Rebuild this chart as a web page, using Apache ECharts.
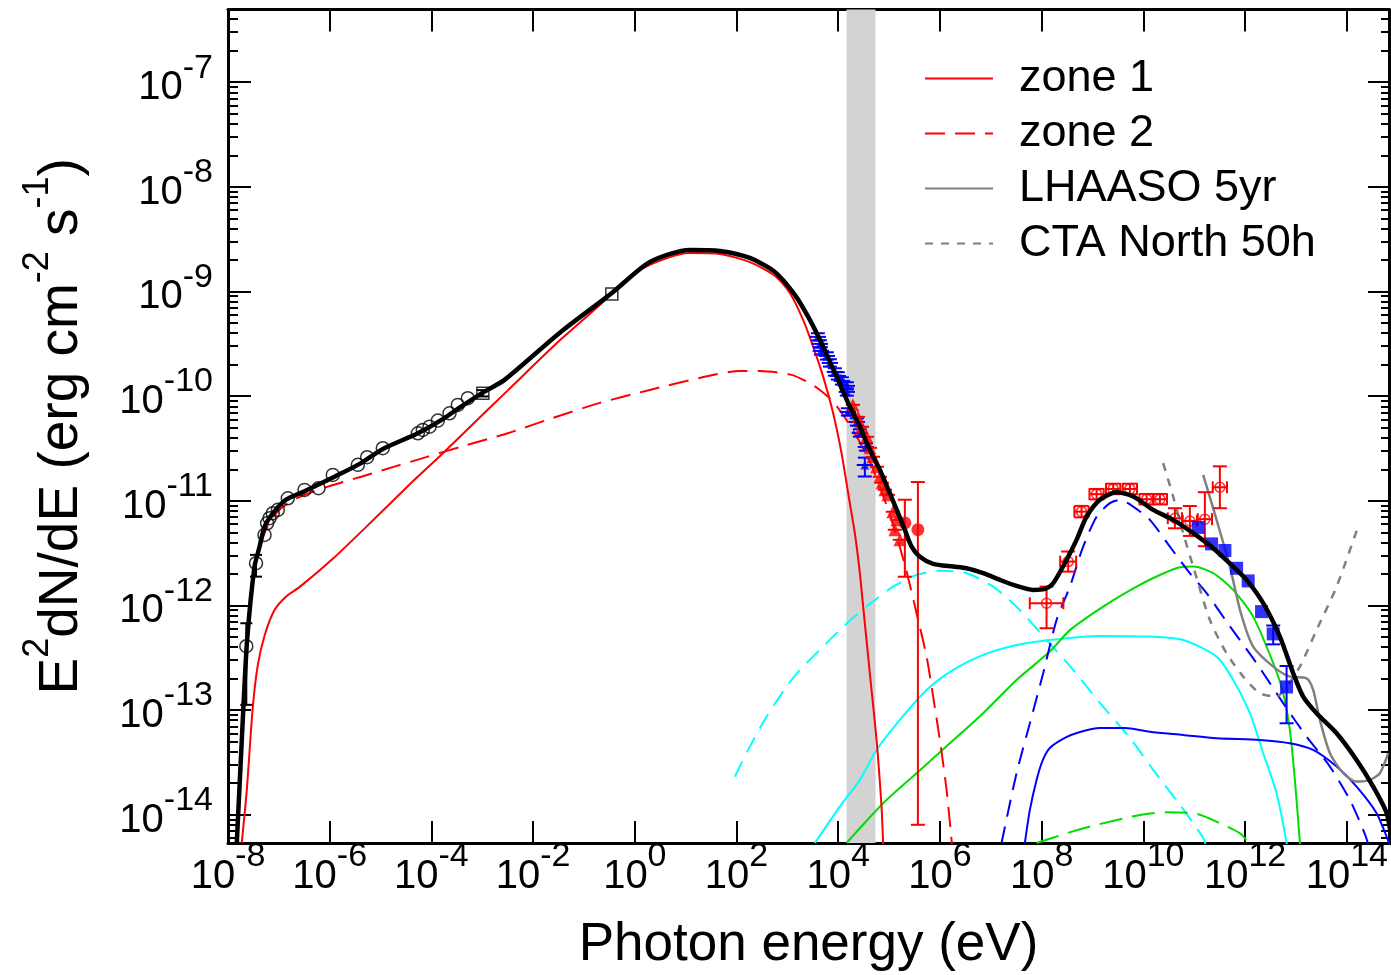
<!DOCTYPE html>
<html>
<head>
<meta charset="utf-8">
<title>SED</title>
<script src="https://cdn.jsdelivr.net/npm/echarts@6.0.0/dist/echarts.min.js"></script>
<style>
  html, body { margin: 0; padding: 0; background: #fff; }
  #main { width: 1391px; height: 975px; }
</style>
</head>
<body>
<div id="main"></div>
<script type="text/javascript">
// every number is log10: x = log10(E / eV), y = log10(E^2 dN/dE / erg cm^-2 s^-1)
var FONT = "'Liberation Sans', Arial, Helvetica, sans-serif";

var xMin = -8, xMax = 14.83;
var yMin = -14.27, yMax = -6.306;
var xTicks = [-8, -6, -4, -2, 0, 2, 4, 6, 8, 10, 12, 14];
var yTicks = [-14, -13, -12, -11, -10, -9, -8, -7];
var yMinorTicks = [];
for (var n = -15; n <= -7; n++) {
  for (var k = 2; k <= 9; k++) {
    var v = n + Math.log10(k);
    if (v > yMin && v < yMax) yMinorTicks.push(v);
  }
}
var grayBand = [4.163, 4.733];

// model curves
var total = [[-7.827,-14.27],[-7.709,-13.09],[-7.624,-12.33],[-7.479,-11.63],[-7.38,-11.44],[-7.282,-11.25],[-7.119,-11.12],[-6.857,-10.99],[-6.495,-10.91],[-5.906,-10.77],[-5.383,-10.64],[-4.956,-10.505],[-4.267,-10.355],[-3.809,-10.23],[-3.416,-10.10],[-2.956,-9.957],[-2.563,-9.845],[-1.475,-9.394],[-0.452,-9.015],[0.295,-8.719],[1.082,-8.603],[1.672,-8.613],[2.262,-8.68],[2.753,-8.813],[3.147,-9.033],[3.442,-9.272],[3.703,-9.527],[3.967,-9.814],[4.228,-10.10],[4.425,-10.29],[4.622,-10.515],[4.818,-10.705],[5.015,-10.928],[5.178,-11.12],[5.31,-11.279],[5.442,-11.438],[5.605,-11.534],[5.866,-11.603],[6.26,-11.629],[6.523,-11.645],[6.85,-11.692],[7.178,-11.756],[7.506,-11.814],[7.833,-11.852],[8.063,-11.842],[8.226,-11.788],[8.49,-11.565],[8.686,-11.374],[8.883,-11.152],[9.145,-10.99],[9.473,-10.918],[9.8,-10.96],[10.193,-11.087],[10.586,-11.183],[10.98,-11.31],[11.373,-11.453],[11.766,-11.629],[12.03,-11.756],[12.356,-11.979],[12.684,-12.298],[12.946,-12.648],[13.142,-12.871],[13.406,-13.03],[13.8,-13.221],[14.192,-13.476],[14.519,-13.731],[14.783,-13.985],[14.9,-14.3]];
var zone1 = [[-7.729,-14.27],[-7.63,-13.76],[-7.512,-12.97],[-7.414,-12.57],[-7.276,-12.28],[-7.08,-12.04],[-6.844,-11.909],[-6.588,-11.823],[-5.939,-11.555],[-5.277,-11.247],[-4.405,-10.833],[-3.815,-10.565],[-3.146,-10.25],[-2.498,-9.945],[-1.475,-9.467],[-0.688,-9.13],[0.098,-8.795],[1.082,-8.633],[1.672,-8.642],[2.262,-8.72],[2.753,-8.85],[3.048,-9.014],[3.31,-9.272],[3.506,-9.527],[3.703,-9.814],[3.9,-10.164],[4.065,-10.546],[4.195,-10.928],[4.326,-11.31],[4.425,-11.692],[4.49,-12.011],[4.621,-12.648],[4.753,-13.285],[4.851,-13.922],[4.883,-14.27],[4.9,-14.4]];
var zone2 = [[-7.833,-14.27],[-7.797,-13.86],[-7.709,-13.09],[-7.611,-12.23],[-7.479,-11.64],[-7.375,-11.45],[-7.257,-11.28],[-7.08,-11.135],[-6.824,-11.024],[-6.495,-10.944],[-6.037,-10.865],[-5.382,-10.77],[-4.726,-10.674],[-4.071,-10.578],[-3.416,-10.483],[-2.498,-10.355],[-1.672,-10.218],[-0.688,-10.065],[0.295,-9.941],[1.278,-9.826],[2.065,-9.759],[2.458,-9.759],[3.081,-9.797],[3.442,-9.877],[3.638,-9.941],[3.9,-10.053],[4.228,-10.277],[4.622,-10.629],[5.015,-11.135],[5.31,-11.613],[5.54,-12.074],[5.737,-12.489],[5.866,-12.871],[5.998,-13.285],[6.13,-13.763],[6.234,-14.27],[6.26,-14.4]];
var cyanDashed = [[1.967,-13.636],[2.262,-13.349],[2.59,-13.063],[2.983,-12.776],[3.245,-12.616],[3.638,-12.425],[4.096,-12.203],[4.557,-12.011],[5.08,-11.82],[5.54,-11.709],[5.998,-11.668],[6.523,-11.692],[7.046,-11.82],[7.571,-12.043],[8.096,-12.33],[8.653,-12.635],[9.145,-12.932],[9.735,-13.266],[10.193,-13.572],[10.718,-13.906],[11.176,-14.222],[11.27,-14.35]];
var cyanSolid = [[3.54,-14.27],[4.031,-13.922],[4.425,-13.667],[4.753,-13.381],[5.212,-13.094],[5.737,-12.808],[6.26,-12.616],[6.85,-12.473],[7.506,-12.378],[8.161,-12.33],[9.145,-12.291],[10.128,-12.298],[10.783,-12.33],[11.44,-12.489],[11.766,-12.712],[12.094,-13.03],[12.356,-13.412],[12.619,-13.794],[12.816,-14.27],[12.84,-14.4]];
var greenSolid = [[4.163,-14.27],[4.883,-13.89],[5.54,-13.603],[6.195,-13.317],[6.85,-13.03],[7.506,-12.712],[8.161,-12.441],[8.555,-12.236],[9.21,-12.011],[9.866,-11.82],[10.325,-11.709],[10.718,-11.635],[10.98,-11.629],[11.373,-11.692],[11.766,-11.852],[12.159,-12.107],[12.553,-12.552],[12.749,-12.839],[12.881,-13.19],[12.979,-13.667],[13.078,-14.27],[13.09,-14.4]];
var greenDashed = [[7.9,-14.27],[8.49,-14.177],[9.08,-14.097],[9.931,-14.002],[10.456,-13.976],[11.046,-13.992],[11.505,-14.081],[11.898,-14.177],[12.061,-14.27],[12.1,-14.35]];
var blueDashed = [[7.211,-14.27],[7.506,-13.603],[7.768,-13.126],[8.03,-12.648],[8.294,-12.138],[8.555,-11.82],[8.816,-11.438],[9.08,-11.152],[9.341,-11.023],[9.538,-10.992],[9.8,-11.056],[10.128,-11.183],[10.521,-11.438],[10.914,-11.692],[11.243,-11.883],[11.636,-12.155],[12.226,-12.552],[12.749,-12.934],[13.209,-13.253],[13.668,-13.54],[14.061,-13.858],[14.323,-14.145],[14.415,-14.27],[14.45,-14.35]];
var blueSolid = [[7.67,-14.27],[7.768,-13.954],[7.9,-13.667],[8.024,-13.476],[8.161,-13.362],[8.456,-13.266],[8.751,-13.209],[9.145,-13.171],[9.636,-13.171],[10.128,-13.206],[10.783,-13.237],[11.44,-13.269],[12.291,-13.285],[12.881,-13.317],[13.339,-13.381],[13.8,-13.54],[14.193,-13.731],[14.586,-13.985],[14.783,-14.209],[14.85,-14.3]];
var lhaaso = [[11.176,-10.753],[11.44,-11.183],[11.701,-11.629],[11.918,-12.075],[12.159,-12.394],[12.553,-12.585],[12.881,-12.68],[13.209,-12.696],[13.339,-12.807],[13.471,-13.094],[13.668,-13.412],[13.93,-13.603],[14.193,-13.683],[14.454,-13.667],[14.651,-13.603],[14.814,-13.412]];
var cta = [[10.389,-10.641],[10.586,-10.96],[10.783,-11.31],[10.98,-11.629],[11.308,-12.139],[11.636,-12.457],[11.963,-12.68],[12.291,-12.839],[12.619,-12.871],[12.816,-12.776],[13.078,-12.585],[13.406,-12.234],[13.8,-11.82],[14.199,-11.279]];

// data points: [x, y, dxLow, dxHigh, dyLow, dyHigh]
var radio = [[-7.64,-12.39,0,0,0.56,0.22],[-7.449,-11.597,0,0,0.128,0.08],[-7.282,-11.326,0,0,0,0],[-7.231,-11.215,0,0,0,0],[-7.184,-11.167,0,0,0,0],[-7.119,-11.119,0,0,0,0],[-7.02,-11.087,0,0,0,0],[-6.824,-10.976,0,0,0,0],[-6.495,-10.896,0,0,0,0],[-6.22,-10.88,0,0,0,0],[-5.939,-10.753,0,0,0,0],[-5.447,-10.657,0,0,0,0],[-5.264,-10.584,0,0,0,0],[-4.956,-10.498,0,0,0,0],[-4.267,-10.355,0,0,0,0],[-4.169,-10.323,0,0,0,0],[-4.037,-10.292,0,0,0,0],[-3.874,-10.234,0,0,0,0],[-3.644,-10.164,0,0,0,0],[-3.481,-10.084,0,0,0,0],[-3.284,-10.02,0,0,0,0]];
var opticalIR = [[-2.989,-9.973,0,0,0.03,0.03],[-0.452,-9.025,0,0,0,0]];
var xrayBlue = [[3.599,-9.434,0.16,0.16,0.035,0.035],[3.638,-9.501,0.16,0.16,0.035,0.035],[3.658,-9.568,0.16,0.16,0.035,0.035],[3.776,-9.616,0.16,0.16,0.035,0.035],[3.835,-9.683,0.16,0.16,0.035,0.035],[3.933,-9.769,0.16,0.16,0.035,0.035],[3.992,-9.807,0.16,0.16,0.035,0.035],[4.071,-9.855,0.16,0.16,0.035,0.035],[4.169,-9.902,0.16,0.16,0.035,0.035],[4.169,-9.96,0.16,0.16,0.035,0.035],[4.189,-10.151,0.16,0.16,0.035,0.035],[4.366,-10.247,0.16,0.16,0.035,0.035],[4.425,-10.352,0.16,0.16,0.035,0.035],[4.543,-10.486,0.16,0.16,0.035,0.035],[4.523,-10.658,0.16,0.16,0.11,0.07]];
var xrayRed = [[4.288,-10.083,0.14,0.14,0,0],[4.386,-10.198,0.14,0.14,0,0],[4.464,-10.293,0.14,0.14,0,0],[4.563,-10.389,0.14,0.14,0,0],[4.622,-10.494,0.14,0.14,0,0],[4.681,-10.58,0.14,0.14,0,0],[4.759,-10.675,0.14,0.14,0,0],[4.818,-10.771,0.14,0.14,0,0],[4.858,-10.828,0.14,0.14,0,0],[4.917,-10.895,0.14,0.14,0,0],[4.976,-10.943,0.14,0.14,0,0],[5.074,-11.105,0.14,0.14,0,0],[5.153,-11.182,0.14,0.14,0,0],[5.113,-11.277,0.14,0.14,0,0],[5.212,-11.373,0.14,0.14,0,0]];
var hardX = [[5.31,-11.212,0,0,0.514,0.222],[5.566,-11.276,0,0,2.82,0.455]];
var fermi = [[8.096,-11.979,0.33,0.33,0.239,0.159],[8.521,-11.581,0.157,0.157,0.096,0.096],[8.784,-11.104,0.14,0.14,0.055,0.055],[9.08,-10.937,0.14,0.14,0.05,0.05],[9.406,-10.887,0.14,0.14,0.05,0.05],[9.735,-10.887,0.14,0.14,0.05,0.05],[10.063,-10.985,0.14,0.14,0.05,0.05],[10.325,-10.985,0.14,0.14,0.05,0.05],[10.62,-11.167,0.14,0.14,0.096,0.096],[10.914,-11.193,0.14,0.14,0.143,0.143],[11.209,-11.176,0.14,0.14,0.258,0.258],[11.504,-10.871,0.14,0.14,0.2,0.2]];
var iact = [[11.078,-11.255,0,0,0,0],[11.341,-11.412,0,0,0,0],[11.603,-11.475,0,0,0,0],[11.833,-11.645,0,0,0,0],[12.061,-11.766,0,0,0,0],[12.324,-12.059,0,0,0,0],[12.553,-12.272,0,0,0.1,0.08],[12.816,-12.779,0,0,0.347,0.2]];

function pow10Label(v) {
  return '{b|10}{s|' + Math.round(v) + '}';
}
// tokens are centred in the line, so the padding lifts the exponent
var tickRich = {
  b: { fontSize: 40, lineHeight: 40, padding: [12, 0, 0, 0], color: '#000', fontFamily: FONT },
  s: { fontSize: 34, lineHeight: 34, padding: [0, 0, 28, 0], color: '#000', fontFamily: FONT }
};
var frameLine = { show: true, onZero: false, lineStyle: { color: '#000', width: 3 } };

function curve(name, data, color, width, dash, z) {
  return {
    name: name, type: 'line', data: data, showSymbol: false, symbol: 'none',
    smooth: 0.25, z: z || 2, silent: true,
    lineStyle: { color: color, width: width, type: dash || 'solid' },
    itemStyle: { color: color }
  };
}

function errorBars(data, color, capX, capY) {
  return {
    type: 'custom', data: data, encode: { x: 0, y: 1 }, z: 3, silent: true,
    renderItem: function (params, api) {
      var x = api.value(0), y = api.value(1);
      var dxl = api.value(2), dxh = api.value(3), dyl = api.value(4), dyh = api.value(5);
      var kids = [];
      var st = { stroke: color, lineWidth: 2 };
      function seg(a, b) {
        kids.push({ type: 'line', shape: { x1: a[0], y1: a[1], x2: b[0], y2: b[1] }, style: st });
      }
      if (dxl || dxh) {
        var l = api.coord([x - dxl, y]), r = api.coord([x + dxh, y]);
        seg(l, r);
        if (capX) {
          seg([l[0], l[1] - capX], [l[0], l[1] + capX]);
          seg([r[0], r[1] - capX], [r[0], r[1] + capX]);
        }
      }
      if (dyl || dyh) {
        var t = api.coord([x, y + dyh]), b = api.coord([x, y - dyl]);
        seg(t, b);
        if (capY) {
          seg([t[0] - capY, t[1]], [t[0] + capY, t[1]]);
          seg([b[0] - capY, b[1]], [b[0] + capY, b[1]]);
        }
      }
      return { type: 'group', children: kids };
    }
  };
}

function markers(data, symbol, size, fill, stroke) {
  return {
    type: 'scatter', data: data, encode: { x: 0, y: 1 }, symbol: symbol, symbolSize: size,
    z: 4, silent: true,
    itemStyle: { color: fill, borderColor: stroke, borderWidth: stroke ? 1.5 : 0 }
  };
}

var chart = echarts.init(document.getElementById('main'));
chart.setOption({
  animation: false,
  backgroundColor: '#fff',
  textStyle: { fontFamily: FONT, color: '#000' },
  grid: { left: 228, right: 2, top: 9.5, bottom: 132, outerBoundsMode: 'none' },
  legend: {
    data: ['zone 1', 'zone 2', 'LHAASO 5yr', 'CTA North 50h'],
    orient: 'vertical', left: 924, top: 56, padding: 0,
    itemWidth: 68, itemHeight: 14, itemGap: 10, selectedMode: false,
    itemStyle: { opacity: 0 },
    textStyle: { fontSize: 45, lineHeight: 44, color: '#000', fontFamily: FONT, padding: [0, 0, 0, 21] }
  },
  xAxis: [{
    type: 'value', position: 'bottom', min: xMin, max: xMax,
    axisLine: frameLine,
    axisTick: { inside: true, length: 22, lineStyle: { color: '#000', width: 2 }, customValues: xTicks },
    axisLabel: { customValues: xTicks, formatter: pow10Label, rich: tickRich, margin: 8 },
    splitLine: { show: false },
    name: 'Photon energy (eV)', nameLocation: 'middle', nameGap: 76, nameMoveOverlap: false,
    nameTextStyle: { fontSize: 53, lineHeight: 53, color: '#000', fontFamily: FONT }
  }, {
    type: 'value', position: 'top', min: xMin, max: xMax,
    axisLine: frameLine,
    axisTick: { inside: true, length: 22, lineStyle: { color: '#000', width: 2 }, customValues: xTicks },
    axisLabel: { show: false }, splitLine: { show: false }
  }],
  yAxis: [{
    type: 'value', position: 'left', min: yMin, max: yMax,
    axisLine: frameLine,
    axisTick: { inside: true, length: 23, lineStyle: { color: '#000', width: 2 }, customValues: yTicks },
    axisLabel: { customValues: yTicks, formatter: pow10Label, rich: tickRich, margin: 15 },
    splitLine: { show: false },
    name: '{m|E}{s|2}{m|dN/dE (erg cm}{s|-2}{m| s}{s|-1}{m|)}',
    nameLocation: 'middle', nameRotate: 90, nameGap: 139, nameMoveOverlap: false,
    nameTextStyle: {
      color: '#000', fontFamily: FONT,
      rich: {
        m: { fontSize: 55, lineHeight: 55, color: '#000', fontFamily: FONT },
        s: { fontSize: 36, lineHeight: 36, padding: [0, 0, 46, 0], color: '#000', fontFamily: FONT }
      }
    }
  }, {
    type: 'value', position: 'left', min: yMin, max: yMax,
    axisLine: { show: false, onZero: false },
    axisTick: { inside: true, length: 10, lineStyle: { color: '#000', width: 2 }, customValues: yMinorTicks },
    axisLabel: { show: false }, splitLine: { show: false }
  }, {
    type: 'value', position: 'right', min: yMin, max: yMax,
    axisLine: frameLine,
    axisTick: { inside: true, length: 21, lineStyle: { color: '#000', width: 2 }, customValues: yTicks },
    axisLabel: { show: false }, splitLine: { show: false }
  }, {
    type: 'value', position: 'right', min: yMin, max: yMax,
    axisLine: { show: false, onZero: false },
    axisTick: { inside: true, length: 8, lineStyle: { color: '#000', width: 2 }, customValues: yMinorTicks },
    axisLabel: { show: false }, splitLine: { show: false }
  }],
  series: [
    {
      type: 'line', data: [], silent: true,
      markArea: { silent: true, itemStyle: { color: '#d3d3d3' }, data: [[{ xAxis: grayBand[0] }, { xAxis: grayBand[1] }]] }
    },
    curve('cyan dashed', cyanDashed, '#00ffff', 2, [17, 10]),
    curve('cyan solid', cyanSolid, '#00ffff', 2),
    curve('green solid', greenSolid, '#00dd00', 2),
    curve('green dashed', greenDashed, '#00dd00', 2, [23, 10]),
    curve('blue dashed', blueDashed, '#0000ff', 2, [17, 10]),
    curve('blue solid', blueSolid, '#0000ff', 2),
    curve('zone 1', zone1, '#ff0000', 2),
    curve('zone 2', zone2, '#ff0000', 2, [20, 10]),
    curve('LHAASO 5yr', lhaaso, '#808080', 2.5),
    curve('CTA North 50h', cta, '#808080', 2.5, [8, 8]),
    errorBars(radio, '#000', 0, 6),
    errorBars(opticalIR, '#000', 0, 6),
    errorBars(xrayBlue, '#0000ff', 0, 7),
    errorBars(xrayRed, '#ff0000', 0, 7),
    errorBars(hardX, '#ff0000', 0, 7),
    errorBars(fermi, '#ff0000', 6, 7),
    errorBars(iact, '#0000ff', 0, 7),
    markers(radio, 'circle', 13, 'rgba(0,0,0,0)', '#000'),
    markers(opticalIR, 'rect', 12, 'rgba(0,0,0,0)', '#000'),
    markers(xrayBlue, 'triangle', 9, '#0000ff'),
    markers(xrayRed, 'triangle', 13, '#ff0000'),
    markers(hardX, 'circle', 13, '#ff0000'),
    markers(fermi, 'circle', 10, 'rgba(0,0,0,0)', '#ff0000'),
    markers(iact, 'rect', 13, '#0000ff'),
    curve('total', total, '#000', 4.5, null, 5)
  ]
});
</script>
</body>
</html>
